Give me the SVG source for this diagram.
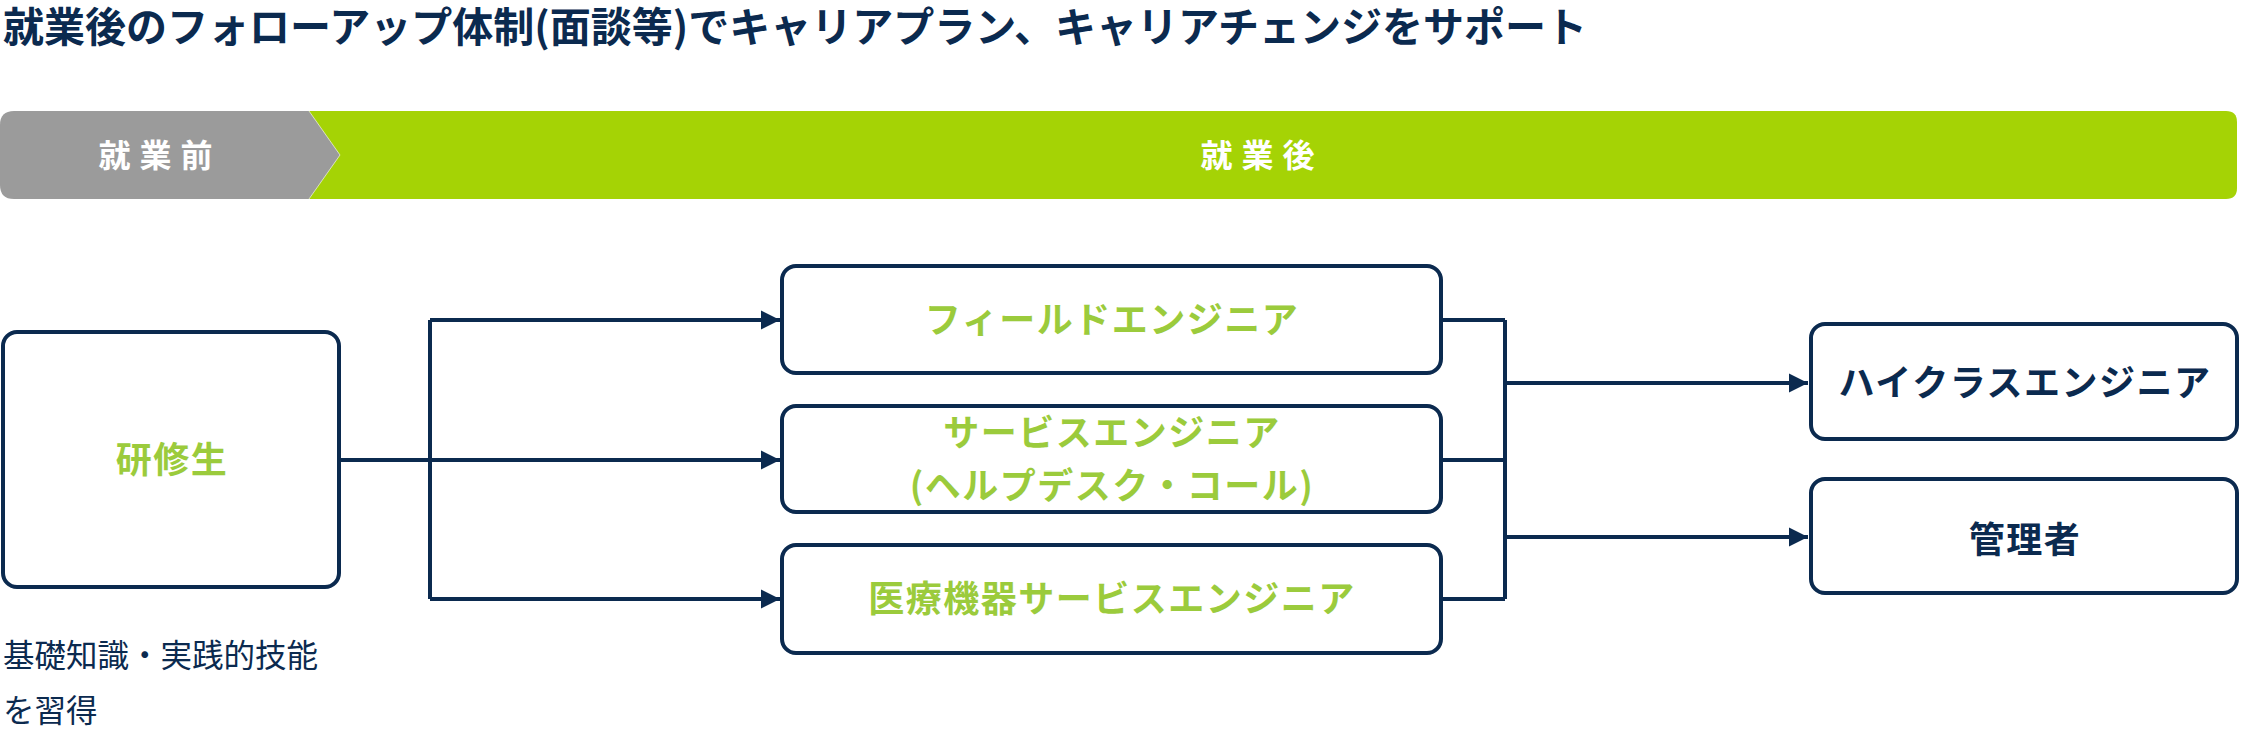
<svg xmlns="http://www.w3.org/2000/svg" width="2241" height="738" viewBox="0 0 2241 738">
<defs>
<style>
text{font-family:"Noto Sans CJK JP","Noto Sans",sans-serif;}
.title{font-size:41px;font-weight:700;fill:#0B2A4F;}
.band{font-size:32px;font-weight:700;fill:#ffffff;letter-spacing:9px;}
.box{fill:#ffffff;stroke:#0B2A4F;stroke-width:4;}
.g{font-size:36px;font-weight:700;fill:#9BCB3C;letter-spacing:1.5px;}
.n{font-size:36px;font-weight:700;fill:#0B2A4F;letter-spacing:1.5px;}
.note{font-size:31.5px;font-weight:400;fill:#0B2A4F;}
.line{fill:none;stroke:#0B2A4F;stroke-width:4;}
</style>
<marker id="arr" viewBox="0 0 10 10" refX="10" refY="5" markerWidth="4.8" markerHeight="4.8" markerUnits="strokeWidth" orient="auto">
<path d="M0,0 L10,5 L0,10 Z" fill="#0B2A4F"/>
</marker>
</defs>
<rect width="2241" height="738" fill="#ffffff"/>
<g id="title"><text class="title" x="3" y="42">就業後のフォローアップ体制(面談等)でキャリアプラン、キャリアチェンジをサポート</text></g>
<g id="band">
<path d="M300,111 L2226,111 Q2237,111 2237,122 L2237,188 Q2237,199 2226,199 L300,199 Z" fill="#A5D305"/>
<path d="M14,111 L309,111 L340,155 L309,199 L14,199 Q0,199 0,185 L0,125 Q0,111 14,111 Z" fill="#9B9B9B"/>
<path d="M309,111 L340,155 L309,199" fill="none" stroke="#ffffff" stroke-width="1" opacity="0.6"/>
<text class="band" x="160" y="167" text-anchor="middle">就業前</text>
<text class="band" x="1262" y="167" text-anchor="middle">就業後</text>
</g>
<g id="connectors">
<path class="line" d="M339,460 L780,460" marker-end="url(#arr)"/>
<path class="line" d="M430,320 L430,599"/>
<path class="line" d="M430,320 L780,320" marker-end="url(#arr)"/>
<path class="line" d="M430,599 L780,599" marker-end="url(#arr)"/>
<path class="line" d="M1441,320 L1505,320 M1441,460 L1505,460 M1441,599 L1505,599 M1505,320 L1505,599"/>
<path class="line" d="M1505,383 L1808,383" marker-end="url(#arr)"/>
<path class="line" d="M1505,537 L1808,537" marker-end="url(#arr)"/>
</g>
<g id="node-trainee">
<rect class="box" x="3" y="332" width="336" height="255" rx="14"/>
<text class="g" x="172" y="473" text-anchor="middle">研修生</text>
</g>
<g id="note-trainee">
<text class="note" x="3" y="667">基礎知識・実践的技能</text>
<text class="note" x="3" y="722">を習得</text>
</g>
<g id="node-field">
<rect class="box" x="782" y="266" width="659" height="107" rx="14"/>
<text class="g" x="1112" y="333" text-anchor="middle">フィールドエンジニア</text>
</g>
<g id="node-service">
<rect class="box" x="782" y="406" width="659" height="106" rx="14"/>
<text class="g" x="1112" y="446" text-anchor="middle">サービスエンジニア</text>
<text class="g" x="1112" y="499" text-anchor="middle">(ヘルプデスク・コール)</text>
</g>
<g id="node-medical">
<rect class="box" x="782" y="545" width="659" height="108" rx="14"/>
<text class="g" x="1112" y="612" text-anchor="middle">医療機器サービスエンジニア</text>
</g>
<g id="node-highclass">
<rect class="box" x="1811" y="324" width="426" height="115" rx="14"/>
<text class="n" x="2025" y="396" text-anchor="middle">ハイクラスエンジニア</text>
</g>
<g id="node-manager">
<rect class="box" x="1811" y="479" width="426" height="114" rx="14"/>
<text class="n" x="2025" y="553" text-anchor="middle">管理者</text>
</g>
</svg>
